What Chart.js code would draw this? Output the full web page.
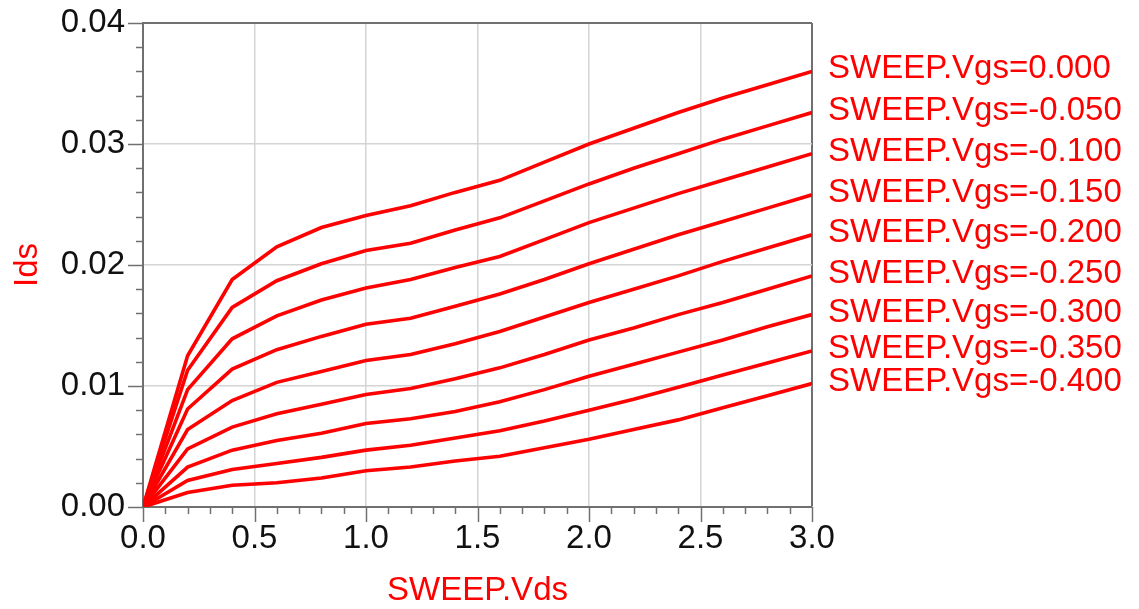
<!DOCTYPE html>
<html>
<head>
<meta charset="utf-8">
<script src="https://cdn.jsdelivr.net/npm/chart.js@4/dist/chart.umd.min.js"></script>
<style>
  html, body { margin: 0; padding: 0; background: #fff; }
  #wrap { width: 1139px; height: 609px; position: relative; }
</style>
</head>
<body>
<div id="wrap"><canvas id="ivChart"></canvas></div>
<script>
// sweep points (Vds) and drain current per Vgs step
var vds = [0, 0.2, 0.4, 0.6, 0.8, 1.0, 1.2, 1.4, 1.6, 1.8, 2.0, 2.2, 2.4, 2.6, 2.8, 3.0];

var vgsLabels = [
  "SWEEP.Vgs=0.000", "SWEEP.Vgs=-0.050", "SWEEP.Vgs=-0.100",
  "SWEEP.Vgs=-0.150", "SWEEP.Vgs=-0.200", "SWEEP.Vgs=-0.250",
  "SWEEP.Vgs=-0.300", "SWEEP.Vgs=-0.350", "SWEEP.Vgs=-0.400"
];

var ids000 = [0, 0.0125, 0.0188, 0.0215, 0.0231, 0.0241, 0.0249, 0.0260, 0.0270, 0.0285, 0.0300, 0.0313, 0.0326, 0.0338, 0.0349, 0.0360];
var ids050 = [0, 0.0113, 0.0165, 0.0187, 0.0201, 0.0212, 0.0218, 0.0229, 0.0239, 0.0253, 0.0267, 0.0280, 0.0292, 0.0304, 0.0315, 0.0326];
var ids100 = [0, 0.0097, 0.0139, 0.0158, 0.0171, 0.0181, 0.0188, 0.0198, 0.0207, 0.0221, 0.0235, 0.0247, 0.0259, 0.0270, 0.0281, 0.0292];
var ids150 = [0, 0.0081, 0.0114, 0.0130, 0.0141, 0.0151, 0.0156, 0.0166, 0.0176, 0.0188, 0.0201, 0.0213, 0.0225, 0.0236, 0.0247, 0.0258];
var ids200 = [0, 0.0064, 0.0088, 0.0103, 0.0112, 0.0121, 0.0126, 0.0135, 0.0145, 0.0157, 0.0169, 0.0180, 0.0191, 0.0203, 0.0214, 0.0225];
var ids250 = [0, 0.0048, 0.0066, 0.0077, 0.0085, 0.0093, 0.0098, 0.0106, 0.0115, 0.0126, 0.0138, 0.0148, 0.0159, 0.0169, 0.0180, 0.0191];
var ids300 = [0, 0.0033, 0.0047, 0.0055, 0.0061, 0.0069, 0.0073, 0.0079, 0.0087, 0.0097, 0.0108, 0.0118, 0.0128, 0.0138, 0.0149, 0.0159];
var ids350 = [0, 0.0022, 0.0031, 0.0036, 0.0041, 0.0047, 0.0051, 0.0057, 0.0063, 0.0071, 0.0080, 0.0089, 0.0099, 0.0109, 0.0119, 0.0129];
var ids400 = [0, 0.0012, 0.0018, 0.0020, 0.0024, 0.0030, 0.0033, 0.0038, 0.0042, 0.0049, 0.0056, 0.0064, 0.0072, 0.0082, 0.0092, 0.0102];

var allIds = [ids000, ids050, ids100, ids150, ids200, ids250, ids300, ids350, ids400];

var FONT = "'Liberation Sans', Arial, sans-serif";
var RED = "#ff0000";
var FRAME = "#707070";
var GRID = "#d4d4d4";

function isMajorX(v) { return Math.abs(v * 2 - Math.round(v * 2)) < 1e-6; }
function isMajorY(v) { return Math.abs(v * 100 - Math.round(v * 100)) < 1e-6; }

var datasets = allIds.map(function (ids, k) {
  return {
    label: vgsLabels[k],
    data: vds.map(function (x, i) { return { x: x, y: ids[i] }; }),
    borderColor: RED,
    borderWidth: 3.6,
    pointRadius: 0,
    tension: 0,
    fill: false
  };
});

// outward tick marks, long on labelled values, short otherwise
var axisTicks = {
  id: "axisTicks",
  afterDraw: function (chart) {
    var c = chart.ctx, a = chart.chartArea;
    c.save();
    c.strokeStyle = FRAME;
    c.lineWidth = 1.5;
    chart.scales.x.ticks.forEach(function (t) {
      var px = Math.round(chart.scales.x.getPixelForValue(t.value)) + 0.5;
      var len = isMajorX(t.value) ? 15 : 7;
      c.beginPath(); c.moveTo(px, a.bottom); c.lineTo(px, a.bottom + len); c.stroke();
    });
    chart.scales.y.ticks.forEach(function (t) {
      var py = Math.round(chart.scales.y.getPixelForValue(t.value)) + 0.5;
      var len = isMajorY(t.value) ? 15 : 7;
      c.beginPath(); c.moveTo(a.left, py); c.lineTo(a.left - len, py); c.stroke();
    });
    c.restore();
  }
};

// curve names at the right end of each line
var endLabels = {
  id: "endLabels",
  afterDatasetsDraw: function (chart) {
    var c = chart.ctx, ys = chart.scales.y;
    c.save();
    c.fillStyle = RED;
    c.font = "33px " + FONT;
    c.textAlign = "left";
    c.textBaseline = "middle";
    chart.data.datasets.forEach(function (ds) {
      var last = ds.data[ds.data.length - 1];
      c.fillText(ds.label, chart.chartArea.right + 16, ys.getPixelForValue(last.y) - 2);
    });
    c.restore();
  }
};

var options = {
  responsive: true,
  maintainAspectRatio: false,
  animation: false,
  layout: { padding: { left: 0, right: 327, top: 23, bottom: 0 } },
  plugins: { legend: { display: false }, tooltip: { enabled: false } },
  scales: {
    x: {
      type: "linear",
      min: 0, max: 3,
      afterFit: function (s) { s.height = 102; s.paddingLeft = 0; s.paddingRight = 0; },
      ticks: {
        stepSize: 0.1,
        autoSkip: false,
        maxRotation: 0,
        padding: 12,
        color: "#111",
        font: { family: FONT, size: 33 },
        callback: function (v) { return isMajorX(v) ? v.toFixed(1) : ""; }
      },
      grid: {
        drawTicks: false,
        color: function (ctx) {
          if (!ctx.tick) return GRID;
          if (ctx.tick.value >= 3 - 1e-9) return FRAME;
          return isMajorX(ctx.tick.value) ? GRID : "rgba(0,0,0,0)";
        },
        lineWidth: function (ctx) { return ctx.tick && ctx.tick.value >= 3 - 1e-9 ? 2 : 1.5; }
      },
      border: { color: FRAME, width: 2 },
      title: {
        display: true,
        text: "SWEEP.Vds",
        color: RED,
        font: { family: FONT, size: 33 },
        padding: { top: 0, bottom: -2 }
      }
    },
    y: {
      type: "linear",
      min: 0, max: 0.04,
      afterFit: function (s) { s.width = 143; s.paddingTop = 0; s.paddingBottom = 0; },
      ticks: {
        stepSize: 0.002,
        autoSkip: false,
        padding: 18,
        color: "#111",
        font: { family: FONT, size: 33 },
        callback: function (v) { return isMajorY(v) ? v.toFixed(2) : ""; }
      },
      grid: {
        drawTicks: false,
        color: function (ctx) {
          if (!ctx.tick) return GRID;
          if (ctx.tick.value >= 0.04 - 1e-9) return FRAME;
          return isMajorY(ctx.tick.value) ? GRID : "rgba(0,0,0,0)";
        },
        lineWidth: function (ctx) { return ctx.tick && ctx.tick.value >= 0.04 - 1e-9 ? 2 : 1.5; }
      },
      border: { color: FRAME, width: 2 },
      title: {
        display: true,
        text: "Ids",
        color: RED,
        font: { family: FONT, size: 33 },
        padding: { top: 8, bottom: 0 }
      }
    }
  }
};

var ctx = document.getElementById("ivChart").getContext("2d");
var ivChart = new Chart(ctx, {
  type: "line",
  data: { datasets: datasets },
  options: options,
  plugins: [axisTicks, endLabels]
});
</script>
</body>
</html>
